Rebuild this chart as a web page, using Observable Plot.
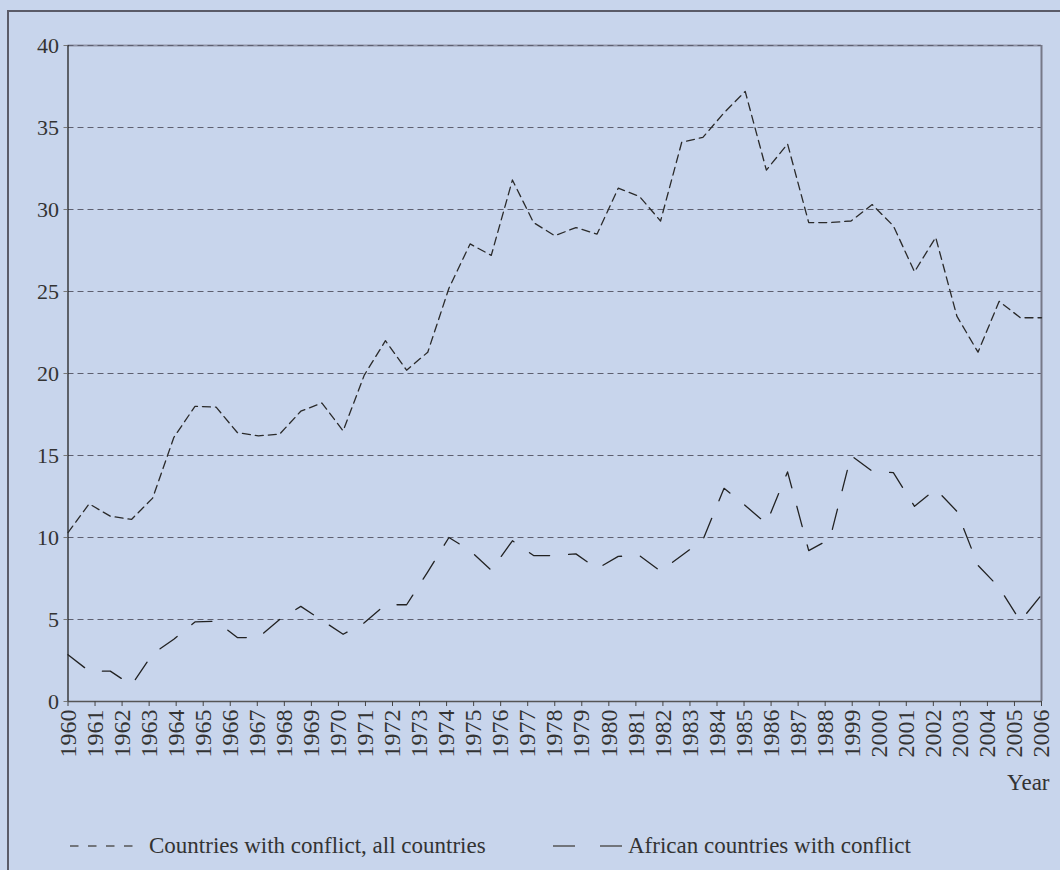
<!DOCTYPE html>
<html>
<head>
<meta charset="utf-8">
<script src="https://cdn.jsdelivr.net/npm/d3@7"></script>
<script src="https://cdn.jsdelivr.net/npm/@observablehq/plot@0.6"></script>
<style>
  html, body { margin: 0; padding: 0; background: #c8d5ec; overflow: hidden; }
  body { width: 1060px; height: 870px; position: relative; font-family: "Liberation Serif", serif; color: #333; }
  #frame { position: absolute; left: 7px; top: 10px; width: 1120px; height: 940px; border: 2px solid #5a5b68; box-sizing: border-box; pointer-events: none; }
  #chart { position: absolute; left: 0; top: 0; }
  #legend { position: absolute; left: 0; top: 826px; width: 1060px; height: 40px; font-size: 23px; }
  .item { position: absolute; top: 0; height: 40px; display: flex; align-items: center; }
</style>
</head>
<body>
<div id="chart"></div>
<div id="legend"></div>
<div id="frame"></div>
<script>
// Data years (annual, 1960-2006)
const years = d3.range(1960, 2007);
// Countries with conflict, all countries
const allCountries = [
  10.3, 12.05, 11.3, 11.1, 12.4, 16.1, 18.0, 17.95, 16.4, 16.2,
  16.3, 17.7, 18.2, 16.5, 19.9, 22.0, 20.2, 21.3, 25.2, 27.9,
  27.2, 31.8, 29.2, 28.4, 28.9, 28.5, 31.3, 30.8, 29.3, 34.1,
  34.4, 35.9, 37.2, 32.4, 34.0, 29.2, 29.2, 29.3, 30.3, 29.0,
  26.2, 28.3, 23.5, 21.3, 24.4, 23.4, 23.4
];
// African countries with conflict
const african = [
  2.85, 1.85, 1.85, 1.0, 2.9, 3.8, 4.85, 4.9, 3.9, 3.9,
  5.0, 5.8, 4.95, 4.1, 4.8, 5.9, 5.9, 7.9, 10.0, 9.2,
  8.0, 9.8, 8.9, 8.9, 9.0, 8.1, 8.85, 8.9, 7.95, 8.9,
  9.85, 13.0, 11.95, 10.85, 14.0, 9.2, 9.9, 15.0, 14.05, 13.95,
  11.9, 12.95, 11.6, 8.3, 6.95, 4.9, 6.5
];
// Axis tick labels as printed on the chart
const tickLabels = [
  "1960","1961","1962","1963","1964","1965","1966","1967","1968","1969",
  "1970","1971","1972","1973","1974","1975","1976","1977","1978","1979",
  "1980","1981","1982","1983","1984","1985","1986","1987","1988","1999",
  "2000","2001","2002","2003","2004","2005","2006"
];
const yTicks = [0, 5, 10, 15, 20, 25, 30, 35, 40];
const seriesNames = ["Countries with conflict, all countries", "African countries with conflict"];

const x0 = years[0], x1 = years[years.length - 1];
const nT = tickLabels.length;
const xTickPos = tickLabels.map((t, k) => x0 + k * (x1 - x0) / (nT - 1));

const allData = years.map((y, i) => ({year: y, value: allCountries[i]}));
const afrData = years.map((y, i) => ({year: y, value: african[i]}));

const chart = Plot.plot({
  width: 1060,
  height: 810,
  marginLeft: 67.5,
  marginRight: 19,
  marginTop: 45,
  marginBottom: 109,
  style: {fontFamily: "Liberation Serif, serif", fontSize: "22px", background: "transparent", color: "#333", overflow: "visible"},
  x: {type: "linear", domain: [x0, x1]},
  y: {domain: [0, 40]},
  marks: [
    Plot.ruleY([40], {stroke: "#8f93a6", strokeWidth: 2}),
    Plot.ruleY(yTicks.filter(d => d > 0), {stroke: "#5e6070", strokeWidth: 1.2, strokeDasharray: "6,4"}),
    Plot.ruleX([x1], {y1: 0, y2: 40, stroke: "#767988", strokeWidth: 2}),
    Plot.ruleX([x0], {y1: 0, y2: 40, stroke: "#222", strokeWidth: 1.3}),
    Plot.ruleY([0], {stroke: "#555", strokeWidth: 1.3}),
    Plot.axisY({ticks: yTicks, tickSize: 4, tickPadding: 5, stroke: "#777", fontSize: 22, label: null}),
    Plot.axisX({
      ticks: xTickPos,
      tickFormat: d => tickLabels[Math.round((d - x0) * (nT - 1) / (x1 - x0))],
      tickRotate: -90, tickSize: 5, tickPadding: 3, fontSize: 24, label: null, stroke: "#444"
    }),
    Plot.text(["Year"], {frameAnchor: "bottom-right", dx: 8, dy: 88, fontSize: 23, textAnchor: "end", fill: "#333"}),
    Plot.lineY(allData, {x: "year", y: "value", stroke: "#2a2a2a", strokeWidth: 1.3, strokeDasharray: "8,5"}),
    Plot.lineY(afrData, {x: "year", y: "value", stroke: "#222", strokeWidth: 1.3, strokeDasharray: "21,19"})
  ]
});
document.getElementById("chart").appendChild(chart);

// Legend
const legend = document.getElementById("legend");
const items = [
  {name: seriesNames[0], left: 70, w: 64, dash: "8.5,9.5", gap: 15},
  {name: seriesNames[1], left: 553, w: 70, dash: "22,25", gap: 5}
];
items.forEach(it => {
  const div = document.createElement("div");
  div.className = "item";
  div.style.left = it.left + "px";
  const ns = "http://www.w3.org/2000/svg";
  const svg = document.createElementNS(ns, "svg");
  svg.setAttribute("width", it.w);
  svg.setAttribute("height", 10);
  svg.style.marginRight = it.gap + "px";
  const ln = document.createElementNS(ns, "line");
  ln.setAttribute("x1", 0); ln.setAttribute("x2", it.w);
  ln.setAttribute("y1", 5); ln.setAttribute("y2", 5);
  ln.setAttribute("stroke", "#555");
  ln.setAttribute("stroke-width", 1.3);
  ln.setAttribute("stroke-dasharray", it.dash);
  svg.appendChild(ln);
  div.appendChild(svg);
  const span = document.createElement("span");
  span.textContent = it.name;
  div.appendChild(span);
  legend.appendChild(div);
});
</script>
</body>
</html>
